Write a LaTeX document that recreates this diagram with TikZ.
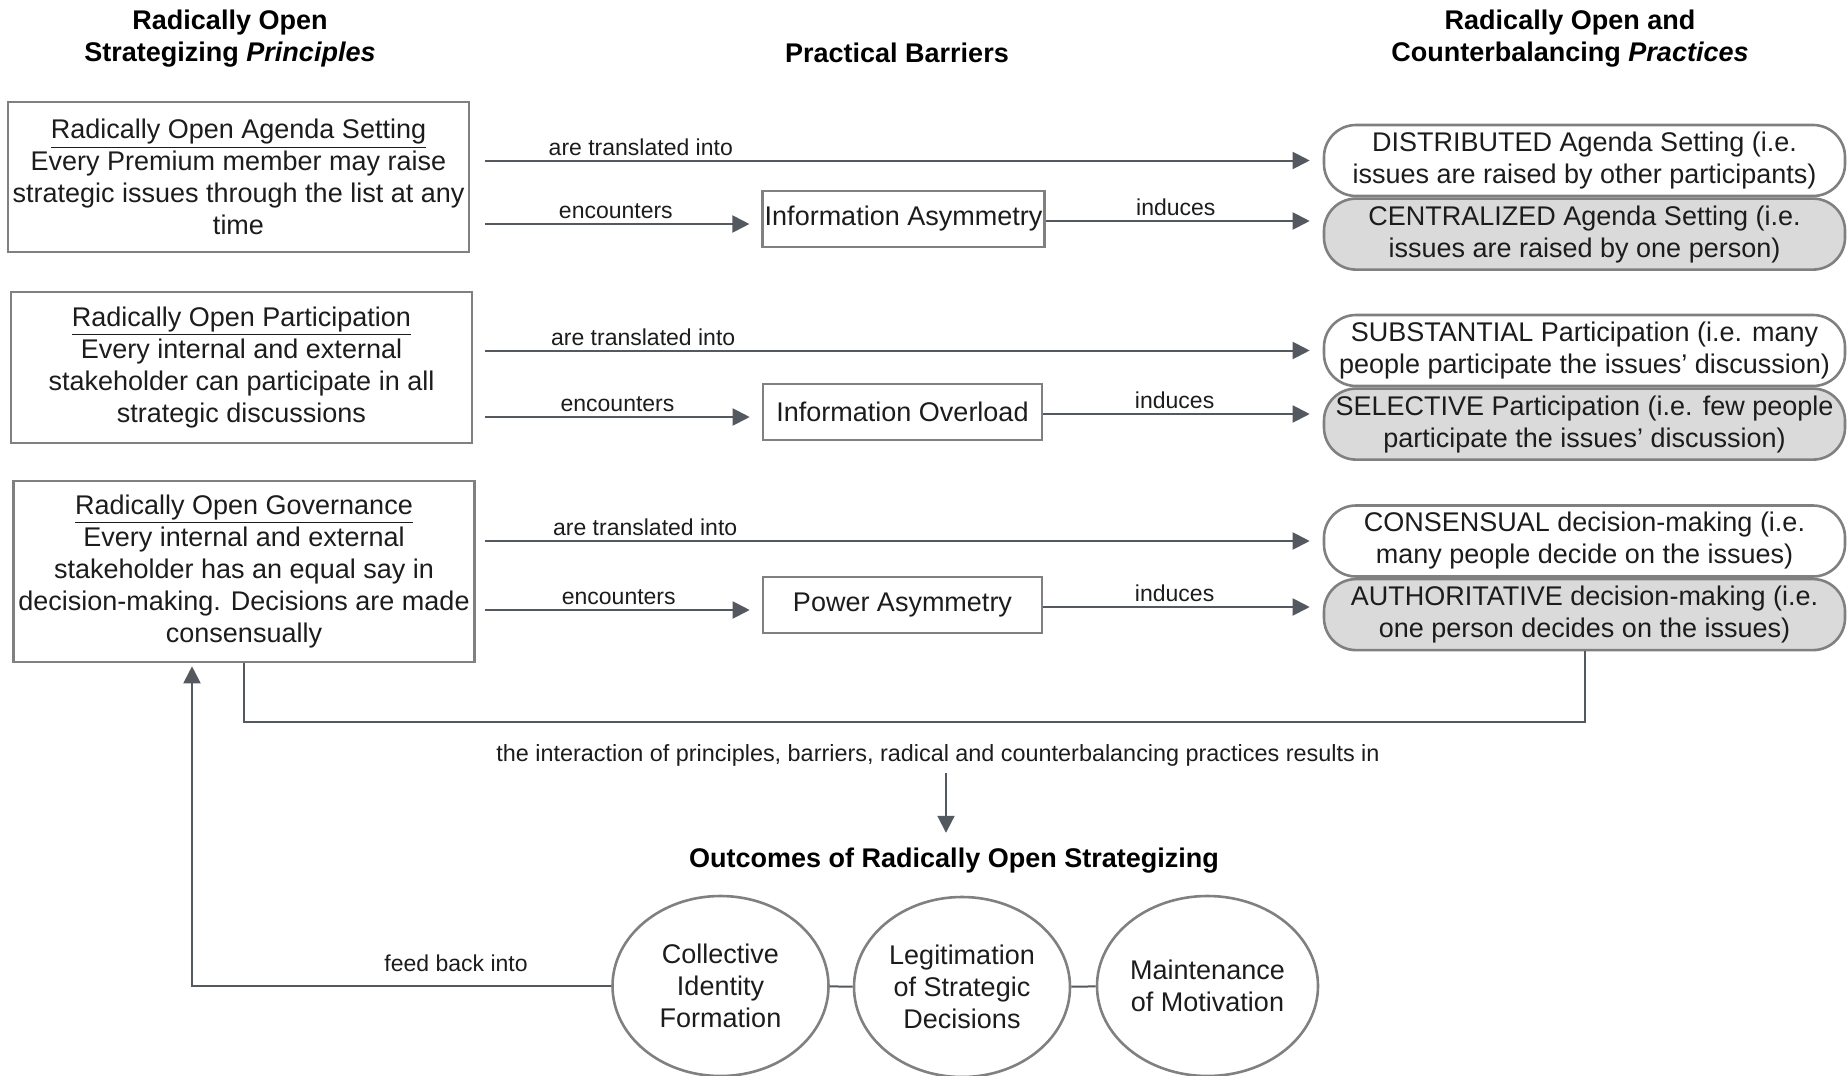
\documentclass[tikz,border=0pt]{standalone}
\usepackage{fontspec}
\setmainfont{Liberation Sans}
\usepackage{tikz}
\usetikzlibrary{calc,positioning,arrows.meta,shapes.geometric}
\definecolor{boxgray}{RGB}{128,128,128}
\definecolor{arrowgray}{RGB}{84,89,96}
\definecolor{boxfill}{RGB}{218,218,218}
\definecolor{textgray}{RGB}{28,28,28}
\tikzset{
		principle/.style={
			rectangle,
			draw=boxgray, line width=1.3pt,
			align=center,
			minimum width=230.5pt,
			inner sep=2pt,
			text=textgray,
			font=\fontsize{13.5}{16}\selectfont},
		barrier/.style={
			principle,
			minimum width=139.5pt,
			minimum height=28pt,
			inner sep=1pt},
		radical/.style={
			principle,
			rounded corners=16pt,
			minimum width=260.5pt,
			minimum height=35.5pt,
			inner sep=1pt},
		counter/.style={radical, fill=boxfill},
		outcome/.style={
			ellipse,
			draw=boxgray, line width=1.3pt,
			align=center,
			minimum width=108pt,
			minimum height=90pt,
			inner sep=0pt,
			text=textgray,
			font=\fontsize{13.5}{16}\selectfont},
		conn/.style={draw=arrowgray, line width=1pt},
		arr/.style={conn, -{Triangle[length=8.5pt,width=8.5pt]}},
		lbl/.style={font=\fontsize{11.5}{13}\selectfont, text=textgray, inner sep=2pt},
		head/.style={font=\bfseries\fontsize{13.5}{16}\selectfont, align=center, text=black},
	}
\begin{document}
\begin{tikzpicture}[x=0.5pt,y=-0.5pt]
	\useasboundingbox (0,0) rectangle (1847,1076);
	%% column heads
	\node[head] (hprin) at (230,39) {Radically Open\\Strategizing \textit{Principles}};
	\node[head] (hbarr) at (897,53) {Practical Barriers};
	\node[head] (hprac) at (1570,39) {Radically Open and\\Counterbalancing \textit{Practices}};
	
	%% principles
	\node[principle, minimum height=75pt] (agenda) at (238.5,177) {\underline{Radically Open Agenda Setting}\\Every Premium member may raise\\strategic issues through the list at any\\time};
	\node[principle, minimum height=75.5pt] (partic) at (241.5,367.5) {\underline{Radically Open Participation}\\Every internal and external\\stakeholder can participate in all\\strategic discussions};
	\node[principle, minimum height=90.5pt] (govern) at (244,571.5) {\underline{Radically Open Governance}\\Every internal and external\\stakeholder has an equal say in\\decision-making. Decisions are made\\consensually};
	
	%% barriers
	\node[barrier] (infoasym) at (903.5,219) {Information Asymmetry};
	\node[barrier] (infoover) at (902.5,412) {Information Overload};
	\node[barrier] (powasym) at (902.5,605) {Power Asymmetry};
	
	%% practices
	\node[radical] (distr) at (1584.5,160.5) {DISTRIBUTED Agenda Setting (i.e.\\issues are raised by other participants)};
	\node[counter, below=0pt of distr] (centr) {CENTRALIZED Agenda Setting (i.e.\\issues are raised by one person)};
	\node[radical] (subst) at (1584.5,350.5) {SUBSTANTIAL Participation (i.e. many\\people participate the issues' discussion)};
	\node[counter, below=0pt of subst] (select) {SELECTIVE Participation (i.e. few people\\participate the issues' discussion)};
	\node[radical] (consens) at (1584.5,541) {CONSENSUAL decision-making (i.e.\\many people decide on the issues)};
	\node[counter, below=0pt of consens] (author) {AUTHORITATIVE decision-making (i.e.\\one person decides on the issues)};
	
	%% arrows
	\foreach \p/\b/\r/\c/\gap in {agenda/infoasym/distr/centr/7.5pt, partic/infoover/subst/select/6pt, govern/powasym/consens/author/4.5pt}{
		\draw[arr, shorten <=\gap, shorten >=6.5pt] (\p.east |- \r.west) -- node[lbl, above, pos=0.2] {are translated into} (\r.west);
		\draw[arr, shorten <=\gap, shorten >=6pt] ([yshift=-2.5pt]\p.east |- \b.west) -- node[lbl, above] {encounters} ([yshift=-2.5pt]\b.west);
		\draw[arr, shorten >=6.5pt] ([yshift=-1pt]\b.east) -- node[lbl, above, pos=0.47] {induces} ([yshift=-1pt]\b.east -| \c.west);
	}
	
	%% outcomes
	\draw[conn] (govern.south) -- ++(0,59) -| (author.south);
	\node[lbl, font=\fontsize{11.7}{13}\selectfont] (interact) at (938,755.5) {the interaction of principles, barriers, radical and counterbalancing practices results in};
	\node[head] (outhead) at (954,860.5) {Outcomes of Radically Open Strategizing};
	\draw[arr, shorten <=1pt, shorten >=4pt] ([xshift=4pt]interact.south) -- ([xshift=4pt]interact.south |- outhead.north);
	
	\node[outcome] (collect) at (720.5,986) {Collective\\Identity\\Formation};
	\node[outcome] (legit) at (962,987) {Legitimation\\of Strategic\\Decisions};
	\node[outcome, minimum width=110.5pt] (motiv) at (1207.5,986) {Maintenance\\of Motivation};
	\draw[conn] (collect) -- (legit);
	\draw[conn] (legit) -- (motiv);
	
	%% feedback
	\coordinate (fbk) at ($(govern.south)+(-52,0)$);
	\draw[arr, shorten >=1.5pt] (collect.west) -- node[lbl, above=4.5pt, pos=0.37] {feed back into} (collect.west -| fbk) -- (fbk);
\end{tikzpicture}
\end{document}
